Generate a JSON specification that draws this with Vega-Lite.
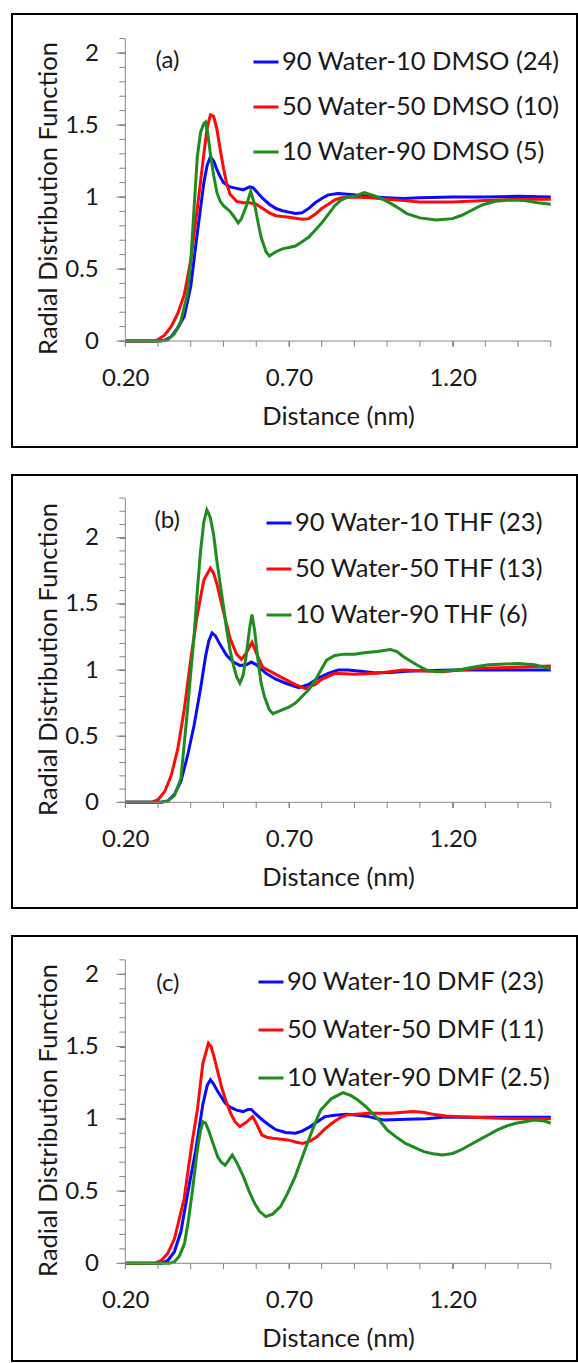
{
"$schema": "https://vega.github.io/schema/vega-lite/v6.json",
"padding": {"left": 11, "top": 13, "right": 0, "bottom": 0},
"spacing": 26,
"datasets": {
"xt": [{"v":0.2},{"v":0.3},{"v":0.4},{"v":0.5},{"v":0.6},{"v":0.7},{"v":0.8},{"v":0.9},{"v":1.0},{"v":1.1},{"v":1.2},{"v":1.3},{"v":1.4},{"v":1.5}],
"y21": [{"v":0},{"v":0.1},{"v":0.2},{"v":0.3},{"v":0.4},{"v":0.5},{"v":0.6},{"v":0.7},{"v":0.8},{"v":0.9},{"v":1},{"v":1.1},{"v":1.2},{"v":1.3},{"v":1.4},{"v":1.5},{"v":1.6},{"v":1.7},{"v":1.8},{"v":1.9},{"v":2},{"v":2.1}],
"y23": [{"v":0},{"v":0.1},{"v":0.2},{"v":0.3},{"v":0.4},{"v":0.5},{"v":0.6},{"v":0.7},{"v":0.8},{"v":0.9},{"v":1},{"v":1.1},{"v":1.2},{"v":1.3},{"v":1.4},{"v":1.5},{"v":1.6},{"v":1.7},{"v":1.8},{"v":1.9},{"v":2},{"v":2.1},{"v":2.2},{"v":2.3}],
"a": [
{"s": "90 Water-10 DMSO (24)", "d": [0.2,0.3,0.32,0.34,0.36,0.38,0.4,0.42,0.44,0.45,0.46,0.47,0.48,0.49,0.5,0.52,0.54,0.56,0.58,0.59,0.6,0.62,0.64,0.66,0.68,0.7,0.72,0.74,0.76,0.78,0.8,0.82,0.85,0.88,0.92,0.96,1.0,1.05,1.1,1.2,1.3,1.4,1.5], "g": [0,0,0.005,0.03,0.09,0.17,0.38,0.75,1.1,1.22,1.28,1.25,1.19,1.14,1.1,1.07,1.06,1.05,1.07,1.065,1.04,0.99,0.95,0.92,0.905,0.895,0.885,0.89,0.92,0.96,0.99,1.015,1.025,1.02,1.01,1.0,0.995,0.99,0.995,1.0,1.0,1.005,1.0]},
{"s": "50 Water-50 DMSO (10)", "d": [0.2,0.29,0.3,0.32,0.34,0.36,0.38,0.4,0.42,0.44,0.45,0.46,0.47,0.48,0.49,0.5,0.51,0.52,0.54,0.56,0.58,0.6,0.62,0.64,0.66,0.7,0.74,0.76,0.78,0.8,0.82,0.84,0.86,0.9,0.95,1.0,1.05,1.1,1.2,1.3,1.4,1.5], "g": [0,0,0.01,0.04,0.1,0.19,0.32,0.56,0.92,1.3,1.48,1.57,1.56,1.47,1.33,1.2,1.09,1.02,0.97,0.96,0.96,0.95,0.92,0.89,0.87,0.86,0.845,0.85,0.88,0.92,0.95,0.98,0.995,1.0,0.995,0.985,0.975,0.965,0.965,0.975,0.985,0.985]},
{"s": "10 Water-90 DMSO (5)", "d": [0.2,0.31,0.33,0.35,0.37,0.39,0.4,0.41,0.42,0.43,0.44,0.445,0.45,0.46,0.47,0.48,0.49,0.5,0.52,0.53,0.545,0.555,0.57,0.583,0.595,0.605,0.615,0.63,0.64,0.66,0.68,0.7,0.72,0.74,0.76,0.78,0.8,0.82,0.84,0.86,0.88,0.9,0.93,0.96,0.98,1.0,1.03,1.06,1.1,1.15,1.2,1.23,1.26,1.29,1.33,1.38,1.42,1.46,1.5], "g": [0,0,0.01,0.05,0.14,0.33,0.55,0.92,1.28,1.45,1.51,1.52,1.47,1.3,1.15,1.03,0.97,0.94,0.9,0.87,0.82,0.85,0.94,1.04,0.95,0.83,0.72,0.62,0.59,0.62,0.64,0.65,0.66,0.69,0.72,0.77,0.82,0.88,0.94,0.98,1.0,1.005,1.03,1.01,0.99,0.97,0.93,0.885,0.855,0.84,0.85,0.875,0.91,0.945,0.97,0.98,0.975,0.96,0.95]}
],
"b": [
{"s": "90 Water-10 THF (23)", "d": [0.2,0.31,0.33,0.35,0.37,0.39,0.41,0.43,0.445,0.455,0.465,0.475,0.49,0.51,0.53,0.55,0.57,0.585,0.6,0.63,0.66,0.69,0.73,0.76,0.79,0.82,0.85,0.88,0.92,0.96,1.01,1.06,1.11,1.2,1.3,1.4,1.5], "g": [0,0,0.01,0.06,0.16,0.35,0.58,0.86,1.1,1.22,1.28,1.26,1.19,1.11,1.06,1.035,1.04,1.06,1.04,0.975,0.93,0.9,0.867,0.89,0.94,0.975,1.0,1.0,0.99,0.98,0.982,0.99,0.995,1.0,1.0,1.0,1.0]},
{"s": "50 Water-50 THF (13)", "d": [0.2,0.28,0.3,0.32,0.34,0.36,0.38,0.4,0.42,0.44,0.46,0.47,0.48,0.5,0.52,0.54,0.555,0.57,0.587,0.6,0.62,0.65,0.68,0.72,0.75,0.78,0.8,0.84,0.9,0.97,1.05,1.1,1.17,1.22,1.28,1.39,1.5], "g": [0,0,0.02,0.08,0.2,0.4,0.7,1.08,1.42,1.68,1.77,1.73,1.65,1.44,1.24,1.12,1.08,1.13,1.21,1.13,1.02,0.98,0.94,0.89,0.86,0.89,0.93,0.975,0.967,0.975,1.0,0.995,0.987,1.0,1.013,1.02,1.03]},
{"s": "10 Water-90 THF (6)", "d": [0.2,0.31,0.33,0.35,0.37,0.38,0.39,0.4,0.41,0.42,0.43,0.44,0.449,0.455,0.46,0.47,0.48,0.49,0.5,0.51,0.52,0.53,0.54,0.55,0.56,0.57,0.58,0.587,0.595,0.605,0.615,0.625,0.64,0.651,0.67,0.7,0.72,0.74,0.76,0.78,0.8,0.815,0.84,0.87,0.9,0.93,0.97,1.01,1.03,1.05,1.07,1.09,1.12,1.15,1.19,1.23,1.27,1.31,1.36,1.4,1.45,1.5], "g": [0,0,0.01,0.05,0.18,0.44,0.7,0.98,1.25,1.6,1.9,2.12,2.21,2.18,2.15,2.02,1.82,1.65,1.48,1.3,1.15,1.04,0.95,0.9,0.96,1.12,1.32,1.42,1.3,1.08,0.9,0.8,0.7,0.67,0.69,0.72,0.75,0.8,0.85,0.92,1.01,1.075,1.11,1.12,1.12,1.13,1.14,1.155,1.14,1.1,1.07,1.04,1.0,0.987,0.995,1.005,1.025,1.04,1.045,1.05,1.04,1.01]}
],
"c": [
{"s": "90 Water-10 DMF (23)", "d": [0.2,0.31,0.33,0.35,0.37,0.38,0.4,0.415,0.437,0.45,0.46,0.47,0.482,0.505,0.52,0.54,0.56,0.575,0.585,0.6,0.62,0.64,0.66,0.69,0.72,0.74,0.765,0.79,0.81,0.84,0.876,0.91,0.944,0.97,0.99,1.06,1.12,1.17,1.3,1.4,1.5], "g": [0,0,0.02,0.08,0.22,0.35,0.6,0.78,1.1,1.23,1.27,1.24,1.19,1.11,1.08,1.06,1.05,1.065,1.065,1.03,0.99,0.955,0.925,0.905,0.9,0.915,0.946,0.985,1.015,1.025,1.031,1.025,1.015,1.0,0.992,0.997,1.0,1.01,1.01,1.01,1.01]},
{"s": "50 Water-50 DMF (11)", "d": [0.2,0.29,0.31,0.33,0.35,0.36,0.38,0.392,0.405,0.42,0.437,0.454,0.462,0.471,0.482,0.494,0.508,0.522,0.535,0.55,0.572,0.589,0.6,0.617,0.635,0.651,0.696,0.72,0.741,0.765,0.786,0.81,0.831,0.855,0.876,0.944,1.011,1.05,1.079,1.11,1.135,1.18,1.225,1.337,1.42,1.5], "g": [0,0,0.02,0.07,0.17,0.26,0.45,0.646,0.85,1.06,1.384,1.523,1.5,1.43,1.33,1.22,1.12,1.038,0.98,0.946,0.98,1.015,0.97,0.888,0.87,0.865,0.854,0.84,0.83,0.845,0.877,0.93,0.969,1.005,1.027,1.038,1.038,1.045,1.05,1.045,1.033,1.02,1.015,1.003,1.0,1.0]},
{"s": "10 Water-90 DMF (2.5)", "d": [0.2,0.335,0.35,0.365,0.381,0.393,0.404,0.42,0.43,0.437,0.445,0.454,0.468,0.482,0.493,0.505,0.515,0.527,0.54,0.561,0.578,0.595,0.61,0.629,0.65,0.674,0.695,0.719,0.74,0.764,0.78,0.797,0.83,0.865,0.89,0.91,0.935,0.955,0.98,1.0,1.03,1.056,1.085,1.112,1.14,1.169,1.2,1.225,1.25,1.281,1.31,1.337,1.365,1.393,1.42,1.45,1.48,1.5], "g": [0,0,0.01,0.05,0.138,0.3,0.484,0.784,0.92,0.98,0.97,0.923,0.83,0.738,0.7,0.68,0.71,0.75,0.7,0.6,0.5,0.415,0.36,0.323,0.34,0.392,0.48,0.6,0.73,0.877,0.97,1.061,1.14,1.181,1.16,1.13,1.085,1.038,0.98,0.923,0.87,0.83,0.8,0.773,0.758,0.75,0.76,0.784,0.815,0.854,0.89,0.923,0.95,0.969,0.98,0.992,0.985,0.969]}
]
},
"vconcat": [
{
"width": 565, "height": 433,
"layer": [
{"data": {"name": "a"}, "transform": [{"flatten": ["d", "g"]}],
 "mark": {"type": "line", "strokeWidth": 3},
 "encoding": {
  "x": {"field": "d", "type": "quantitative", "scale": {"domain": [-0.1462, 1.5801], "nice": false, "zero": false},
   "axis": {"title": "Distance (nm)", "values": [0.2, 0.7, 1.2], "format": ".2f", "offset": -106, "tickSize": 5, "labelPadding": 32, "labelBaseline": "middle", "titleX": 326, "titleY": 75, "titleBaseline": "middle"}},
  "y": {"field": "g", "type": "quantitative", "scale": {"domain": [-0.736, 2.271], "nice": false, "zero": false},
   "axis": {"title": "Radial Distribution Function", "values": [0, 0.5, 1, 1.5, 2], "labelExpr": "toString(datum.value)", "offset": -113.3, "tickSize": 6, "labelPadding": 21, "titleX": -77.3, "titleY": 184, "titleBaseline": "middle"}},
  "color": {"field": "s", "type": "nominal", "sort": null,
   "scale": {"domain": ["90 Water-10 DMSO (24)", "50 Water-50 DMSO (10)", "10 Water-90 DMSO (5)"], "range": ["#0a0aff", "#ff0a0a", "#1e8c1e"]},
   "legend": {"orient": "none", "legendX": 240, "legendY": 34, "title": null, "rowPadding": 17}}
 }},
{"data": {"values": [{}]}, "mark": {"type": "rule", "color": "#868686", "strokeWidth": 1},
 "encoding": {"x": {"datum": 0.2, "type": "quantitative"}, "x2": {"datum": 1.5}, "y": {"datum": 0, "type": "quantitative"}}},
{"data": {"values": [{}]}, "mark": {"type": "rule", "color": "#868686", "strokeWidth": 1},
 "encoding": {"x": {"datum": 0.2, "type": "quantitative"}, "y": {"datum": 0, "type": "quantitative"}, "y2": {"datum": 2.1}}},
{"data": {"name": "y21"}, "mark": {"type": "rule", "color": "#868686", "strokeWidth": 1},
 "encoding": {"x": {"datum": 0.1817, "type": "quantitative"}, "x2": {"datum": 0.2}, "y": {"field": "v", "type": "quantitative"}}},
{"data": {"name": "y21"}, "transform": [{"filter": {"field": "v", "oneOf": [0, 0.5, 1, 1.5, 2]}}], "mark": {"type": "rule", "color": "#868686", "strokeWidth": 1},
 "encoding": {"x": {"datum": 0.1725, "type": "quantitative"}, "x2": {"datum": 0.2}, "y": {"field": "v", "type": "quantitative"}}},
{"data": {"name": "xt"}, "mark": {"type": "rule", "color": "#868686", "strokeWidth": 1},
 "encoding": {"x": {"field": "v", "type": "quantitative"}, "y": {"datum": 0, "type": "quantitative"}, "y2": {"datum": -0.04}}},
{"data": {"values": [{"t": "(a)"}]}, "mark": {"type": "text", "fontSize": 24, "font": "Lato", "color": "#1a1a1a"},
 "encoding": {"x": {"datum": 0.329, "type": "quantitative"}, "y": {"datum": 1.944, "type": "quantitative"}, "text": {"field": "t"}}}
]
},
{
"width": 565, "height": 433,
"layer": [
{"data": {"name": "b"}, "transform": [{"flatten": ["d", "g"]}],
 "mark": {"type": "line", "strokeWidth": 3},
 "encoding": {
  "x": {"field": "d", "type": "quantitative", "scale": {"domain": [-0.1462, 1.5801], "nice": false, "zero": false},
   "axis": {"title": "Distance (nm)", "values": [0.2, 0.7, 1.2], "format": ".2f", "offset": -105.7, "tickSize": 5, "labelPadding": 32, "labelBaseline": "middle", "titleX": 326, "titleY": 75, "titleBaseline": "middle"}},
  "y": {"field": "g", "type": "quantitative", "scale": {"domain": [-0.799, 2.474], "nice": false, "zero": false},
   "axis": {"title": "Radial Distribution Function", "values": [0, 0.5, 1, 1.5, 2], "labelExpr": "toString(datum.value)", "offset": -113.3, "tickSize": 6, "labelPadding": 21, "titleX": -77.3, "titleY": 184, "titleBaseline": "middle"}},
  "color": {"field": "s", "type": "nominal", "sort": null,
   "scale": {"domain": ["90 Water-10 THF (23)", "50 Water-50 THF (13)", "10 Water-90 THF (6)"], "range": ["#0a0aff", "#ff0a0a", "#1e8c1e"]},
   "legend": {"orient": "none", "legendX": 253, "legendY": 34, "title": null, "rowPadding": 18}}
 }},
{"data": {"values": [{}]}, "mark": {"type": "rule", "color": "#868686", "strokeWidth": 1},
 "encoding": {"x": {"datum": 0.2, "type": "quantitative"}, "x2": {"datum": 1.5}, "y": {"datum": 0, "type": "quantitative"}}},
{"data": {"values": [{}]}, "mark": {"type": "rule", "color": "#868686", "strokeWidth": 1},
 "encoding": {"x": {"datum": 0.2, "type": "quantitative"}, "y": {"datum": 0, "type": "quantitative"}, "y2": {"datum": 2.3}}},
{"data": {"name": "y23"}, "mark": {"type": "rule", "color": "#868686", "strokeWidth": 1},
 "encoding": {"x": {"datum": 0.1817, "type": "quantitative"}, "x2": {"datum": 0.2}, "y": {"field": "v", "type": "quantitative"}}},
{"data": {"name": "y23"}, "transform": [{"filter": {"field": "v", "oneOf": [0, 0.5, 1, 1.5, 2]}}], "mark": {"type": "rule", "color": "#868686", "strokeWidth": 1},
 "encoding": {"x": {"datum": 0.1725, "type": "quantitative"}, "x2": {"datum": 0.2}, "y": {"field": "v", "type": "quantitative"}}},
{"data": {"name": "xt"}, "mark": {"type": "rule", "color": "#868686", "strokeWidth": 1},
 "encoding": {"x": {"field": "v", "type": "quantitative"}, "y": {"datum": 0, "type": "quantitative"}, "y2": {"datum": -0.044}}},
{"data": {"values": [{"t": "(b)"}]}, "mark": {"type": "text", "fontSize": 24, "font": "Lato", "color": "#1a1a1a"},
 "encoding": {"x": {"datum": 0.328, "type": "quantitative"}, "y": {"datum": 2.126, "type": "quantitative"}, "text": {"field": "t"}}}
]
},
{
"width": 565, "height": 425,
"layer": [
{"data": {"name": "c"}, "transform": [{"flatten": ["d", "g"]}],
 "mark": {"type": "line", "strokeWidth": 3},
 "encoding": {
  "x": {"field": "d", "type": "quantitative", "scale": {"domain": [-0.1462, 1.5801], "nice": false, "zero": false},
   "axis": {"title": "Distance (nm)", "values": [0.2, 0.7, 1.2], "format": ".2f", "offset": -97.7, "tickSize": 5, "labelPadding": 32, "labelBaseline": "middle", "titleX": 326, "titleY": 75, "titleBaseline": "middle"}},
  "y": {"field": "g", "type": "quantitative", "scale": {"domain": [-0.676, 2.265], "nice": false, "zero": false},
   "axis": {"title": "Radial Distribution Function", "values": [0, 0.5, 1, 1.5, 2], "labelExpr": "toString(datum.value)", "offset": -113.3, "tickSize": 6, "labelPadding": 21, "titleX": -77.3, "titleY": 184, "titleBaseline": "middle"}},
  "color": {"field": "s", "type": "nominal", "sort": null,
   "scale": {"domain": ["90 Water-10 DMF (23)", "50 Water-50 DMF (11)", "10 Water-90 DMF (2.5)"], "range": ["#0a0aff", "#ff0a0a", "#1e8c1e"]},
   "legend": {"orient": "none", "legendX": 245, "legendY": 32, "title": null, "rowPadding": 20}}
 }},
{"data": {"values": [{}]}, "mark": {"type": "rule", "color": "#868686", "strokeWidth": 1},
 "encoding": {"x": {"datum": 0.2, "type": "quantitative"}, "x2": {"datum": 1.5}, "y": {"datum": 0, "type": "quantitative"}}},
{"data": {"values": [{}]}, "mark": {"type": "rule", "color": "#868686", "strokeWidth": 1},
 "encoding": {"x": {"datum": 0.2, "type": "quantitative"}, "y": {"datum": 0, "type": "quantitative"}, "y2": {"datum": 2.1}}},
{"data": {"name": "y21"}, "mark": {"type": "rule", "color": "#868686", "strokeWidth": 1},
 "encoding": {"x": {"datum": 0.1817, "type": "quantitative"}, "x2": {"datum": 0.2}, "y": {"field": "v", "type": "quantitative"}}},
{"data": {"name": "y21"}, "transform": [{"filter": {"field": "v", "oneOf": [0, 0.5, 1, 1.5, 2]}}], "mark": {"type": "rule", "color": "#868686", "strokeWidth": 1},
 "encoding": {"x": {"datum": 0.1725, "type": "quantitative"}, "x2": {"datum": 0.2}, "y": {"field": "v", "type": "quantitative"}}},
{"data": {"name": "xt"}, "mark": {"type": "rule", "color": "#868686", "strokeWidth": 1},
 "encoding": {"x": {"field": "v", "type": "quantitative"}, "y": {"datum": 0, "type": "quantitative"}, "y2": {"datum": -0.04}}},
{"data": {"values": [{"t": "(c)"}]}, "mark": {"type": "text", "fontSize": 24, "font": "Lato", "color": "#1a1a1a"},
 "encoding": {"x": {"datum": 0.33, "type": "quantitative"}, "y": {"datum": 1.933, "type": "quantitative"}, "text": {"field": "t"}}}
]
}
],
"resolve": {"scale": {"x": "independent", "y": "independent", "color": "independent"}, "axis": {"x": "independent", "y": "independent"}, "legend": {"color": "independent"}},
"config": {
 "font": "Lato",
 "view": {"stroke": "#000000", "strokeWidth": 2},
 "axis": {"grid": false, "domain": false, "ticks": true, "tickColor": "#868686", "tickWidth": 1, "labelFont": "Lato", "labelFontSize": 24, "labelColor": "#1a1a1a", "titleFont": "Lato", "titleFontSize": 25.5, "titleFontWeight": "normal", "titleColor": "#1a1a1a", "labelOverlap": false, "labelFlush": false, "titlePadding": 0},
 "legend": {"symbolType": "stroke", "symbolSize": 625, "symbolStrokeWidth": 3, "labelFont": "Lato", "labelFontSize": 25.5, "labelColor": "#1a1a1a", "labelOffset": 2, "padding": 0, "labelLimit": 400}
}
}
